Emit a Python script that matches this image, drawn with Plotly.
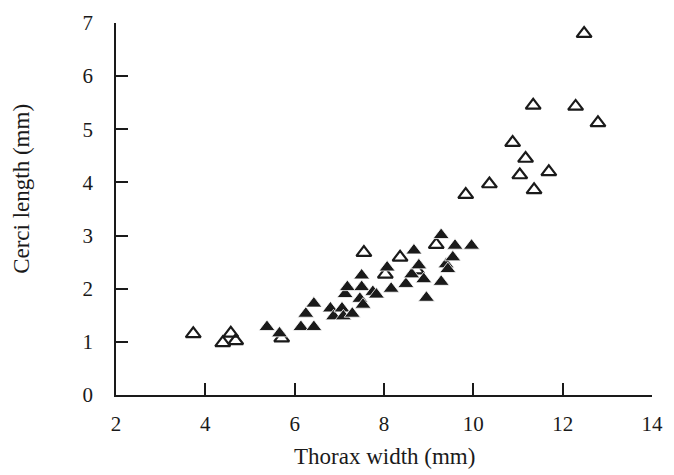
import plotly.graph_objects as go

# Filled triangles (solid)
filled_x = [5.38, 5.66, 6.14, 6.43, 6.25, 6.43, 6.80, 6.87, 7.06, 7.09, 7.29, 7.13,
            7.18, 7.50, 7.50, 7.46, 7.53, 7.75, 7.83, 8.16, 8.07, 8.49, 8.62, 8.67,
            8.78, 8.89, 8.95, 9.28, 9.28, 9.39, 9.43, 9.54, 9.59, 9.96]
filled_y = [1.28, 1.16, 1.28, 1.28, 1.53, 1.72, 1.63, 1.48, 1.63, 1.48, 1.53, 1.90,
            2.03, 2.03, 2.25, 1.81, 1.70, 1.94, 1.89, 2.00, 2.40, 2.09, 2.27, 2.72,
            2.44, 2.18, 1.83, 2.13, 3.01, 2.46, 2.37, 2.59, 2.81, 2.81]

# Open triangles
open_x = [3.73, 4.39, 4.57, 4.68, 5.71, 7.55, 8.03, 8.36, 8.73, 9.17, 9.83, 10.36,
          10.88, 11.04, 11.17, 11.36, 11.34, 11.69, 12.29, 12.48, 12.79]
open_y = [1.15, 0.98, 1.16, 1.02, 1.07, 2.68, 2.27, 2.59, 2.35, 2.83, 3.77, 3.97,
          4.75, 4.14, 4.45, 3.86, 5.45, 4.20, 5.43, 6.80, 5.12]

x_ticks = [2, 4, 6, 8, 10, 12, 14]
y_ticks = [0, 1, 2, 3, 4, 5, 6, 7]

FONT = "Liberation Serif, Times New Roman, serif"
INK = "#1a1a1a"

fig = go.Figure()
fig.add_trace(go.Scatter(
    x=open_x, y=open_y, mode="markers",
    marker=dict(symbol="triangle-up-open", size=13, color=INK, line=dict(width=2.2, color=INK)),
    showlegend=False))
fig.add_trace(go.Scatter(
    x=filled_x, y=filled_y, mode="markers",
    marker=dict(symbol="triangle-up", size=14, color=INK, line=dict(width=0.8, color="white")),
    showlegend=False))

axis_common = dict(
    showline=True, linecolor=INK, linewidth=1.6,
    ticks="inside", ticklen=12, tickwidth=1.6, tickcolor=INK,
    showgrid=False, zeroline=False,
    tickfont=dict(family=FONT, size=21, color=INK),
)

fig.update_layout(
    width=674, height=475,
    margin=dict(l=116, r=11, t=16, b=80),
    paper_bgcolor="white", plot_bgcolor="white",
    xaxis=dict(range=[2, 14], tickvals=x_ticks, ticklabelstandoff=9, **axis_common),
    yaxis=dict(range=[0, 7], tickvals=y_ticks, ticklabelstandoff=17, **axis_common),
    annotations=[
        dict(text="Thorax width (mm)", xref="paper", yref="paper", x=0.5, y=-0.166,
             xanchor="center", yanchor="middle", showarrow=False,
             font=dict(family=FONT, size=23, color=INK)),
        dict(text="Cerci length (mm)", xref="paper", yref="paper", x=-0.1755, y=0.554,
             xanchor="center", yanchor="middle", showarrow=False, textangle=-90,
             font=dict(family=FONT, size=23, color=INK)),
    ],
)

fig.write_html("out.html")
